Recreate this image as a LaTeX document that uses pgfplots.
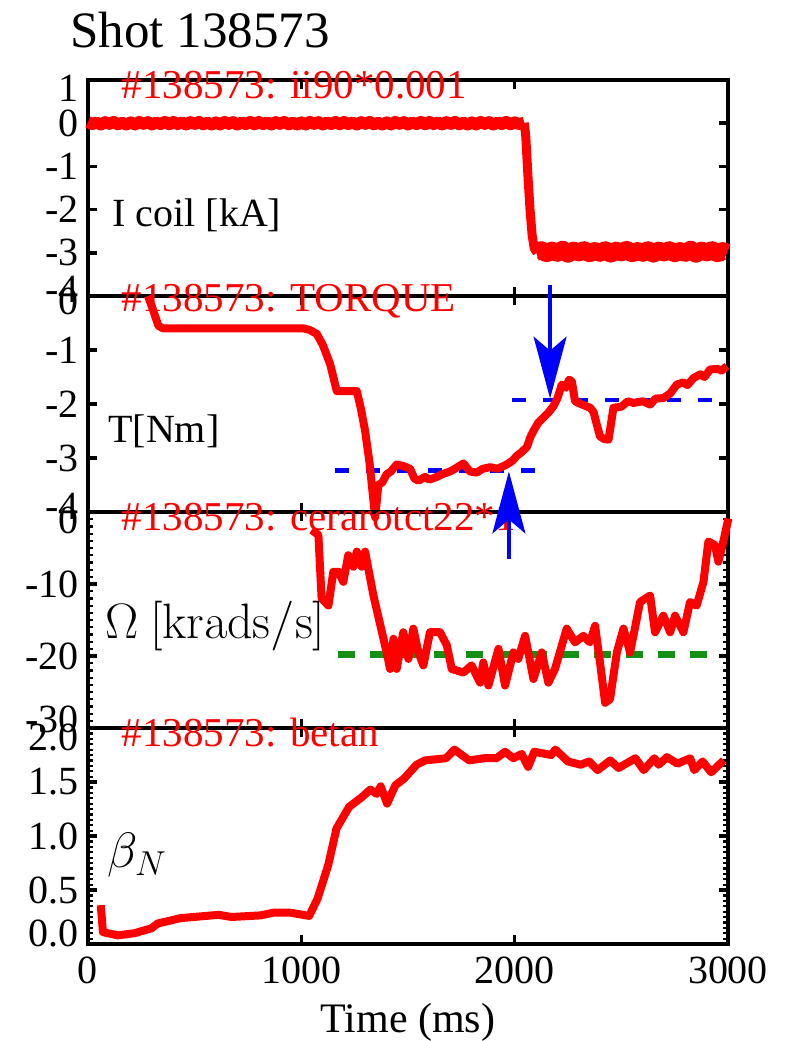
\documentclass[border=0pt]{standalone}
\usepackage[no-math]{fontspec}
\setmainfont{Liberation Serif}
\usepackage{pgfplots}
\pgfplotsset{compat=1.18}
\usetikzlibrary{arrows.meta}
\definecolor{dgreen}{RGB}{20,145,20}
\newcommand{\up}[2]{\raisebox{#1}[\height][\depth]{#2}}

\pgfplotsset{
  panel/.style={
    width=320pt, height=108pt, scale only axis,
    anchor=south west,
    xmin=0, xmax=3000,
    xtick={0,1000,2000,3000},
    xticklabels={},
    axis line style={line width=2.2pt},
    tick style={black, line width=1.8pt},
    minor tick style={line width=1.1pt},
    major tick length=4.5pt,
    minor tick length=2.5pt,
    tick align=inside,
    xtick pos=both, ytick pos=both,
    clip=false,
    /pgf/number format/assume math mode=true,
    tick label style={font=\rmfamily\fontsize{20}{24}\selectfont},
    yticklabel style={xshift=-1pt},
  },
}
\tikzset{
  redline/.style={red, line width=4pt, line join=round},
  redlab/.style={anchor=west, text=red, inner sep=0pt, font=\rmfamily\fontsize{20.5}{24}\selectfont},
  blklab/.style={anchor=west, inner sep=0pt, font=\rmfamily\fontsize{20}{24}\selectfont},
}

\begin{document}
\begin{tikzpicture}
\path[use as bounding box] (-44pt,-48.5pt) rectangle (349.5pt,472pt);

% ---------------- Panel 1: I coil
\begin{axis}[panel, at={(0,324pt)}, ymin=-4, ymax=1,
  ytick={-4,-3,-2,-1,0,1},
  yticklabels={{\up{3.5pt}{\textrm{-4}}},\textrm{-3},\textrm{-2},\textrm{-1},\textrm{0},{\up{-4pt}{\textrm{1}}}}]
% before the coil is switched on
\addplot[red, line width=6pt, line join=round] coordinates {
(0,0.03) (20,-0.02) (40,0.015) (60,-0.03) (80,0.025) (100,-0.015) (120,0.03) (140,-0.025) (160,0.01) (180,-0.03)
(200,0.02) (220,-0.03) (240,0.03) (260,-0.015) (280,0.025) (300,-0.03) (320,0.015) (340,-0.02) (360,0.03) (380,-0.025)
(400,0.03) (420,-0.02) (440,0.015) (460,-0.03) (480,0.025) (500,-0.015) (520,0.03) (540,-0.025) (560,0.01) (580,-0.03)
(600,0.02) (620,-0.03) (640,0.03) (660,-0.015) (680,0.025) (700,-0.03) (720,0.015) (740,-0.02) (760,0.03) (780,-0.025)
(800,0.03) (820,-0.02) (840,0.015) (860,-0.03) (880,0.025) (900,-0.015) (920,0.03) (940,-0.025) (960,0.01) (980,-0.03)
(1000,0.02) (1020,-0.03) (1040,0.03) (1060,-0.015) (1080,0.025) (1100,-0.03) (1120,0.015) (1140,-0.02) (1160,0.03) (1180,-0.025)
(1200,0.03) (1220,-0.02) (1240,0.015) (1260,-0.03) (1280,0.025) (1300,-0.015) (1320,0.03) (1340,-0.025) (1360,0.01) (1380,-0.03)
(1400,0.02) (1420,-0.03) (1440,0.03) (1460,-0.015) (1480,0.025) (1500,-0.03) (1520,0.015) (1540,-0.02) (1560,0.03) (1580,-0.025)
(1600,0.03) (1620,-0.02) (1640,0.015) (1660,-0.03) (1680,0.025) (1700,-0.015) (1720,0.03) (1740,-0.025) (1760,0.01) (1780,-0.03)
(1800,0.02) (1820,-0.03) (1840,0.03) (1860,-0.015) (1880,0.025) (1900,-0.03) (1920,0.015) (1940,-0.02) (1960,0.03) (1980,-0.025)
(2000,0.02) (2020,-0.02) (2045,0.01)
};
% ramp down
\addplot[red, line width=4.5pt, line join=round] coordinates {
(2045,0.01) (2052,-0.3) (2062,-1.2) (2072,-2.0) (2082,-2.6) (2092,-2.9) (2105,-3.0)
};
% after the coil is switched on
\addplot[red, line width=9pt, line join=round] coordinates {
(2100,-2.98) (2125,-2.94) (2150,-3.01) (2175,-2.95) (2200,-3.0) (2225,-2.93) (2250,-3.02) (2275,-2.95)
(2300,-2.99) (2325,-2.94) (2350,-3.01) (2375,-2.96) (2400,-3.0) (2425,-2.94) (2450,-3.02) (2475,-2.95)
(2500,-2.99) (2525,-2.93) (2550,-3.01) (2575,-2.96) (2600,-3.0) (2625,-2.94) (2650,-3.02) (2675,-2.95)
(2700,-2.99) (2725,-2.94) (2750,-3.01) (2775,-2.96) (2800,-3.0) (2825,-2.93) (2850,-3.02) (2875,-2.95)
(2900,-2.99) (2925,-2.94) (2950,-3.01) (2975,-2.96) (2995,-3.0)
};
\node[redlab] at (rel axis cs:0.052,0.977) {\#138573: ii90*0.001};
\node[blklab] at (rel axis cs:0.0375,0.372) {I coil [kA]};
\end{axis}

% ---------------- Panel 2: Torque
\begin{axis}[panel, at={(0,216pt)}, ymin=-4, ymax=0,
  ytick={-4,-3,-2,-1,0},
  yticklabels={{\up{3pt}{\textrm{-4}}},\textrm{-3},\textrm{-2},\textrm{-1},{\up{-2.5pt}{\textrm{0}}}}]
\node[redlab] at (rel axis cs:0.052,0.977) {\#138573: TORQUE};
\addplot[blue, line width=2.2pt, dash pattern=on 7pt off 8.5pt] coordinates {(1158,-3.23) (2142,-3.23)};
\addplot[blue, line width=2.2pt, dash pattern=on 7pt off 8.5pt] coordinates {(1986,-1.93) (2985,-1.93)};
\addplot[redline] coordinates {
(281,0) (300,-0.2) (330,-0.55) (352,-0.6) (500,-0.6) (700,-0.6) (900,-0.6) (1010,-0.6)
(1040,-0.63) (1072,-0.7) (1100,-0.9) (1135,-1.26) (1150,-1.5) (1166,-1.76) (1260,-1.76)
(1280,-2.1) (1299,-2.5) (1320,-3.1) (1346,-4.1) (1361,-3.5) (1380,-3.45) (1400,-3.3)
(1420,-3.25) (1447,-3.12) (1480,-3.15) (1510,-3.2) (1530,-3.38) (1549,-3.42) (1580,-3.35)
(1600,-3.4) (1635,-3.35) (1660,-3.3) (1697,-3.25) (1720,-3.2) (1760,-3.1) (1790,-3.25)
(1822,-3.27) (1850,-3.2) (1885,-3.17) (1920,-3.2) (1963,-3.12) (1990,-3.05) (2010,-2.96)
(2030,-2.9) (2057,-2.8) (2075,-2.6) (2088,-2.5) (2110,-2.35) (2135,-2.25) (2160,-2.15)
(2182,-2.04) (2200,-1.9) (2221,-1.64) (2240,-1.7) (2255,-1.55) (2268,-1.58) (2283,-1.95)
(2310,-2.0) (2354,-2.07) (2370,-2.15) (2385,-2.38) (2400,-2.6) (2420,-2.65) (2440,-2.66)
(2463,-2.07) (2500,-2.05) (2530,-1.95) (2557,-1.98) (2600,-1.95) (2635,-2.01) (2660,-1.9)
(2698,-1.89) (2730,-1.8) (2760,-1.64) (2790,-1.6) (2810,-1.65) (2838,-1.52) (2870,-1.45)
(2890,-1.5) (2916,-1.36) (2950,-1.35) (2970,-1.38) (2995,-1.30)
};
\node[blklab] at (rel axis cs:0.031,0.375) {T[Nm]};
\coordinate (dA1) at (axis cs:2166,0.2);
\coordinate (dA2) at (axis cs:2166,-1.9);
\coordinate (uA1) at (axis cs:1973,-4.87);
\coordinate (uA2) at (axis cs:1973,-3.25);
\end{axis}

% ---------------- Panel 3: Omega
\begin{axis}[panel, at={(0,108pt)}, ymin=-30, ymax=0,
  ytick={-30,-20,-10,0},
  yticklabels={{\up{4.5pt}{\textrm{-30}}},\textrm{-20},\textrm{-10},{\up{-4pt}{\textrm{0}}}},
  minor y tick num=9]
\node[redlab] at (rel axis cs:0.052,0.977) {\#138573: cerarotct22*1};
\addplot[dgreen, line width=3.5pt, dash pattern=on 8.5pt off 7.5pt] coordinates {(1174,-19.8) (2939,-19.8)};
\addplot[redline] coordinates {
(1049,-2.5) (1080,-3.2) (1095,-12.0) (1127,-13) (1150,-8.3) (1174,-8.3) (1197,-9.7)
(1220,-6.0) (1244,-7.6) (1260,-5.5) (1283,-7.6) (1299,-5.5) (1338,-11.6) (1385,-17.6)
(1400,-19.5) (1416,-21.8) (1432,-17.6) (1447,-21.8) (1478,-16.7) (1502,-20.4) (1525,-16.2)
(1549,-19.5) (1572,-21.3) (1603,-16.7) (1650,-16.7) (1682,-18.5) (1705,-21.8) (1760,-22.3)
(1798,-21.3) (1838,-23.7) (1853,-20.9) (1877,-24.1) (1924,-19.0) (1955,-24.1) (1994,-19.5)
(2017,-20.4) (2049,-17.2) (2088,-23.2) (2127,-19.5) (2158,-23.7) (2189,-21.8) (2244,-16.2)
(2283,-18.1) (2322,-17.2) (2353,-18.1) (2377,-15.8) (2400,-20.9) (2424,-26.5) (2447,-26.0)
(2479,-19.5) (2510,-16.2) (2541,-19.5) (2588,-12.5) (2635,-11.6) (2658,-16.7) (2697,-14.4)
(2729,-16.7) (2752,-14.4) (2791,-16.7) (2822,-12.5) (2853,-13.0) (2885,-9.7) (2908,-4.1)
(2939,-4.6) (2955,-6.9) (2978,-4.1) (3002,-0.9)
};
\node[anchor=west, inner sep=0pt, font=\fontsize{23}{27}\selectfont] at (rel axis cs:0.027,0.474) {$\Omega\ [\mathrm{krads/s}]$};
\end{axis}

% ---------------- Panel 4: beta_N
\begin{axis}[panel, at={(0,0pt)}, ymin=0, ymax=2,
  ytick={0,0.5,1,1.5,2},
  yticklabels={{\up{5.5pt}{\textrm{0.0}}},\textrm{0.5},\textrm{1.0},\textrm{1.5},{\up{-4.5pt}{\textrm{2.0}}}},
  minor y tick num=9,
  xticklabels={\textrm{0},\textrm{1000},\textrm{2000},\textrm{3000}},
  xticklabel style={yshift=-3pt},
  xlabel={Time (ms)},
  xlabel style={font=\rmfamily\fontsize{21}{25}\selectfont, at={(axis description cs:0.5,-0.365)}, anchor=center}]
\node[redlab] at (rel axis cs:0.052,0.977) {\#138573: betan};
\addplot[redline] coordinates {
(60,0.36) (70,0.11) (139,0.08) (218,0.10) (297,0.145) (327,0.19) (435,0.24) (613,0.27)
(672,0.25) (810,0.265) (869,0.29) (948,0.29) (1037,0.26) (1076,0.42) (1126,0.73)
(1165,1.07) (1224,1.27) (1284,1.36) (1323,1.43) (1353,1.39) (1372,1.46) (1402,1.30)
(1441,1.47) (1481,1.53) (1540,1.66) (1580,1.70) (1678,1.72) (1718,1.80) (1787,1.70)
(1856,1.72) (1915,1.72) (1955,1.78) (1994,1.72) (2033,1.76) (2063,1.64) (2092,1.78)
(2171,1.75) (2191,1.80) (2250,1.69) (2309,1.66) (2349,1.69) (2389,1.61) (2448,1.70)
(2487,1.63) (2566,1.72) (2605,1.61) (2655,1.72) (2675,1.66) (2714,1.73) (2763,1.67)
(2823,1.72) (2842,1.61) (2881,1.69) (2921,1.59) (2980,1.70)
};
\node[anchor=west, inner sep=0pt, font=\fontsize{23}{27}\selectfont] at (rel axis cs:0.03,0.41) {$\beta_N$};
\end{axis}

% arrows and title
\draw[blue, line width=1.6pt, -{Stealth[length=31pt,width=16.5pt,inset=7pt]}] (dA1) -- (dA2);
\draw[blue, line width=1.6pt, -{Stealth[length=31pt,width=16.5pt,inset=7pt]}] (uA1) -- (uA2);
\node[anchor=west, inner sep=0pt, font=\rmfamily\fontsize{25.5}{30}\selectfont] at (-9pt,457pt) {Shot 138573};
\end{tikzpicture}
\end{document}
